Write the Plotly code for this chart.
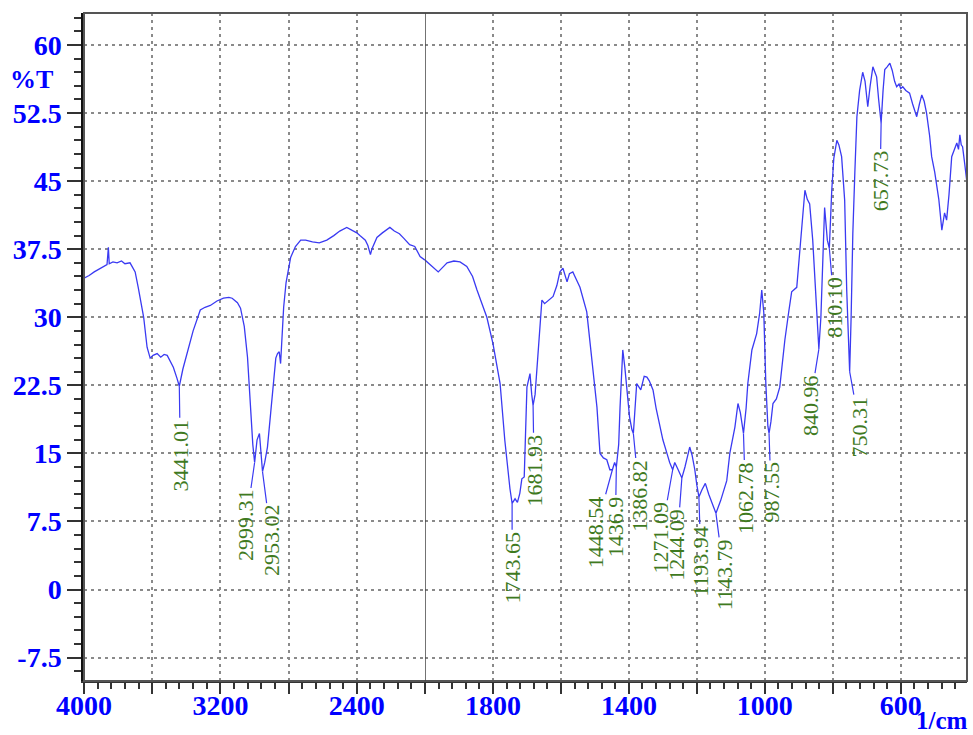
import plotly.graph_objects as go

# ---------------- data ----------------
wavenumber = [
    4000, 3970, 3940, 3910, 3880, 3865, 3857, 3852, 3830, 3806, 3780, 3760, 3730, 3700, 3682, 3665,
    3650, 3630, 3612, 3595, 3571, 3550, 3530, 3512, 3490, 3476, 3455, 3441.01, 3420, 3396, 3360, 3318,
    3290, 3259, 3220, 3182, 3150, 3131, 3100, 3082, 3060, 3041, 3024, 3010, 2999.31, 2985, 2971, 2960,
    2953.02, 2940, 2924, 2905, 2888, 2875, 2865, 2855, 2847, 2838, 2829, 2815, 2806, 2788, 2760, 2729,
    2700, 2660, 2620, 2576, 2535, 2500, 2459, 2430, 2400, 2382, 2350, 2335, 2320, 2312, 2300, 2282,
    2250, 2206, 2180, 2150, 2124, 2090, 2060, 2047, 2029, 2000,
    1980, 1961, 1948, 1935, 1915, 1897, 1877, 1860, 1847, 1830, 1818, 1800, 1790, 1779, 1765, 1755,
    1750, 1743.65, 1735, 1728, 1721, 1715, 1708, 1700, 1691, 1686, 1681.93, 1676, 1667, 1656, 1648, 1641,
    1623, 1612, 1603, 1594, 1582, 1575, 1565, 1555, 1544, 1524, 1509, 1494, 1485, 1475, 1465, 1456,
    1448.54, 1442, 1436.9, 1430, 1426, 1418, 1412, 1406, 1398, 1391, 1386.82, 1377, 1365, 1355, 1347, 1340,
    1329, 1320, 1309, 1300, 1288, 1280, 1271.09, 1265, 1255, 1244.09, 1235, 1221, 1214, 1206, 1200, 1193.94,
    1185, 1175, 1165, 1155, 1143.79, 1130, 1120, 1112, 1103, 1088, 1079, 1072, 1062.78, 1055, 1050, 1038,
    1024, 1015, 1009, 1003, 997, 991, 987.55, 982, 976, 966, 956, 941, 930, 921, 906, 900,
    893, 882, 875, 868, 859, 852, 847, 840.96, 835, 830, 824, 816, 810.10, 803, 797, 788,
    782, 774, 765, 759, 753, 750.31, 746, 741, 735, 729, 721, 712, 705, 697, 690, 682,
    676, 671, 665, 657.73, 652, 647, 640, 632, 625, 618, 612, 605, 600, 594, 585, 574,
    565, 553, 545, 538, 531, 524, 515, 509, 500, 494, 488, 479, 475, 471, 465, 458,
    450, 442, 435, 430, 426, 422, 418, 412, 406,
]
transmittance = [
    34.3, 34.6, 35.0, 35.3, 35.6, 35.8, 37.7, 35.9, 36.1, 36.0, 36.2, 35.9, 36.0, 35.0, 33.3, 31.5,
    30.0, 26.7, 25.5, 25.8, 26.0, 25.6, 25.9, 25.8, 25.0, 24.5, 23.3, 22.4, 24.3, 26.0, 28.5, 30.8,
    31.1, 31.3, 31.8, 32.1, 32.2, 32.1, 31.6, 31.0, 29.0, 25.6, 20.1, 16.0, 14.0, 16.5, 17.2, 14.5,
    13.0, 14.0, 15.7, 19.5, 23.1, 25.5, 26.0, 26.2, 24.9, 28.0, 31.1, 33.8, 34.9, 36.6, 37.8, 38.5,
    38.5, 38.3, 38.2, 38.5, 39.0, 39.5, 39.9, 39.6, 39.3, 39.0, 38.5, 37.9, 36.9, 37.5, 38.0, 38.8,
    39.3, 39.9, 39.5, 39.2, 38.7, 38.0, 37.8, 37.4, 36.7, 36.3,
    35.6, 35.0, 35.5, 36.0, 36.2, 36.1, 35.6, 34.5, 33.0, 31.3, 30.0, 27.1, 25.0, 22.7, 16.4, 12.5,
    11.1, 9.5, 10.0, 9.6, 10.6, 12.2, 12.4, 22.3, 23.8, 21.5, 20.3, 21.5, 26.4, 31.9, 31.5, 31.7,
    32.3, 33.5, 35.0, 35.4, 33.9, 34.8, 35.0, 34.2, 33.3, 30.6, 25.6, 20.1, 15.0, 14.5, 14.3, 13.2,
    13.2, 14.0, 13.5, 16.0, 20.1, 26.4, 24.5, 22.0, 19.0, 17.6, 17.2, 22.7, 22.0, 23.5, 23.4, 23.0,
    22.0, 20.0, 17.9, 16.5, 15.0, 14.0, 13.2, 14.0, 13.2, 12.3, 13.5, 15.7, 14.8, 13.2, 11.5, 10.2,
    11.0, 11.7, 10.5, 9.5, 8.4, 9.8, 11.0, 12.0, 15.0, 17.9, 20.5, 19.5, 17.2, 20.0, 22.7, 26.4,
    28.2, 30.5, 33.0, 30.5, 22.7, 18.0, 17.2, 18.5, 20.5, 21.0, 22.3, 27.5, 30.5, 32.8, 33.3, 36.0,
    40.0, 44.0, 43.0, 42.5, 38.5, 33.5, 31.1, 26.5, 30.0, 35.6, 42.1, 38.5, 37.6, 44.0, 47.5, 49.5,
    49.0, 47.7, 42.9, 33.0, 26.0, 24.0, 30.0, 39.2, 46.0, 52.1, 55.0, 57.0, 56.0, 53.2, 55.5, 57.6,
    57.0, 56.5, 54.0, 51.4, 55.0, 57.3, 57.6, 58.0, 57.2, 56.0, 55.4, 55.7, 55.2, 55.4, 55.0, 54.7,
    53.5, 52.1, 53.5, 54.5, 53.8, 52.5, 50.0, 47.7, 46.0, 44.4, 43.0, 39.6, 40.5, 41.5, 40.7, 43.5,
    47.7, 48.5, 49.2, 48.5, 50.1, 49.0, 48.8, 47.0, 45.1,
]

peak_wn = [3441.01, 2999.31, 2953.02, 1743.65, 1681.93, 1448.54, 1436.9, 1386.82, 1271.09,
           1244.09, 1193.94, 1143.79, 1062.78, 987.55, 840.96, 810.10, 750.31, 657.73]
peak_t = [22.4, 14.0, 13.0, 9.5, 20.3, 13.2, 13.5, 17.2, 13.2,
          12.3, 10.2, 8.4, 17.2, 17.2, 26.5, 37.6, 24.0, 51.4]
peak_labels = ["3441.01", "2999.31", "2953.02", "1743.65", "1681.93", "1448.54", "1436.9", "1386.82",
               "1271.09", "1244.09", "1193.94", "1143.79", "1062.78", "987.55", "840.96", "810.10",
               "750.31", "657.73"]
# label offsets (pixels) from the peak point
peak_dx = [1, -9, 9, 0, 1, -17, -1, 6, -12, -5, 2, 8, 2, 2, -9, 5, 10, -1]
peak_dy = [69, 63, 69, 64, 65, 62, 60, 62, 68, 67, 64, 61, 64, 59, 56, 59, 55, 58]

y_ticks = [-7.5, 0, 7.5, 15, 22.5, 30, 37.5, 45, 52.5, 60]
left_ticks = [4000, 3600, 3200, 2800, 2400, 2000]
left_labels = ["4000", "", "3200", "", "2400", ""]
right_ticks = [2000, 1800, 1600, 1400, 1200, 1000, 800, 600]
right_labels = ["", "1800", "", "1400", "", "1000", "", "600"]

SPLIT = 2000
# ---------------- figure ----------------
BLUE = "#0000ff"
LINE = "#3a3af2"
GREEN = "#3f7a1f"
GRID = "#8a8a8a"
AX = "#333333"
tick_font = dict(family="Liberation Serif", size=28, color=BLUE, weight="bold")

left_x = [w for w in wavenumber if w >= SPLIT]
left_y = [t for w, t in zip(wavenumber, transmittance) if w >= SPLIT]
right_x = [w for w in wavenumber if w <= SPLIT]
right_y = [t for w, t in zip(wavenumber, transmittance) if w <= SPLIT]

fig = go.Figure()
fig.add_trace(go.Scatter(x=left_x, y=left_y, mode="lines", xaxis="x", yaxis="y",
                         line=dict(color=LINE, width=1.3), showlegend=False))
fig.add_trace(go.Scatter(x=right_x, y=right_y, mode="lines", xaxis="x2", yaxis="y",
                         line=dict(color=LINE, width=1.3), showlegend=False))

split_frac = 341 / 883

common_x = dict(
    showgrid=True, gridcolor=GRID, griddash="3px,4px", gridwidth=1.5,
    showline=True, linecolor=AX, linewidth=2, zeroline=False,
    ticks="outside", ticklen=11, tickwidth=1.5, tickcolor=AX,
    tickfont=tick_font, anchor="y", ticklabelstandoff=-13,
)

fig.update_layout(
    width=973, height=735,
    margin=dict(l=84, r=6, t=13, b=54),
    paper_bgcolor="white", plot_bgcolor="white",
    xaxis=dict(domain=[0, split_frac], range=[4000, SPLIT], tickmode="array",
               tickvals=left_ticks, ticktext=left_labels,
               minor=dict(dtick=80, tick0=0, ticks="outside", ticklen=6, tickwidth=1.5,
                          tickcolor=AX, showgrid=False),
               **common_x),
    xaxis2=dict(domain=[split_frac, 1], range=[SPLIT, 405], tickmode="array",
                tickvals=right_ticks, ticktext=right_labels,
                minor=dict(dtick=40, tick0=0, ticks="outside", ticklen=6, tickwidth=1.5,
                           tickcolor=AX, showgrid=False),
                **common_x),
    yaxis=dict(range=[-10.08, 63.53], tickmode="array", tickvals=y_ticks,
               ticktext=[f"{v:g}" for v in y_ticks],
               showgrid=True, gridcolor=GRID, griddash="3px,4px", gridwidth=1.5,
               showline=True, linecolor="#111111", linewidth=2.5, zeroline=False,
               ticks="outside", ticklen=14, tickwidth=1.5, tickcolor=AX,
               tickfont=tick_font,
               minor=dict(dtick=1.5, tick0=0, ticks="outside", ticklen=7, tickwidth=1.5,
                          tickcolor=AX, showgrid=False)),
)

# frame and the scale-change divider
fig.add_shape(type="rect", xref="paper", yref="paper", x0=0, x1=1, y0=0, y1=1,
              line=dict(color="#555555", width=2), layer="above")
fig.add_shape(type="line", xref="x2", yref="paper", x0=SPLIT, x1=SPLIT, y0=0, y1=1,
              line=dict(color="#444444", width=1.5), layer="above")

# axis titles
fig.add_annotation(text="%T", xref="paper", yref="paper", x=-0.059, y=0.90,
                   showarrow=False, xanchor="center", yanchor="middle",
                   font=dict(family="Liberation Serif", size=26, color=BLUE, weight="bold"))
fig.add_annotation(text="1/cm", xref="paper", yref="paper", x=1.002, y=-0.0805,
                   showarrow=False, xanchor="right", yanchor="bottom", borderpad=0,
                   font=dict(family="Liberation Serif", size=25, color=BLUE, weight="bold"))

# peak labels
for wn, t, lab, dx, dy in zip(peak_wn, peak_t, peak_labels, peak_dx, peak_dy):
    fig.add_annotation(
        x=wn, y=t, xref="x" if wn > SPLIT else "x2", yref="y",
        text=lab, textangle=-90, showarrow=True, arrowhead=0, arrowwidth=1.2,
        arrowcolor=LINE, ax=dx, ay=dy, standoff=0,
        font=dict(family="Liberation Serif", size=22, color=GREEN),
    )

fig.write_html("out.html")
